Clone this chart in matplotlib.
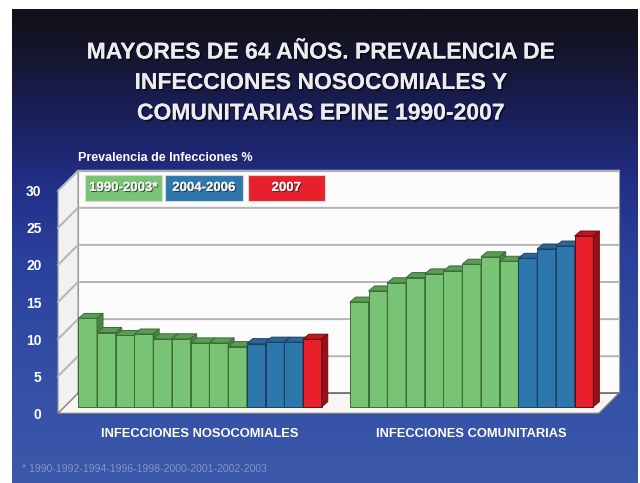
import numpy as np
import matplotlib.pyplot as plt
from matplotlib.patches import Polygon, Rectangle
from matplotlib.colors import LinearSegmentedColormap
import matplotlib.patheffects as pe

plt.rcParams['font.family'] = ['Liberation Sans', 'DejaVu Sans']

# datos: prevalencia (%) en mayores de 64 años, EPINE
grupos = ['INFECCIONES NOSOCOMIALES', 'INFECCIONES COMUNITARIAS']
periodos = ['1990-2003*', '2004-2006', '2007']
n_periodo = [9, 3, 1]  # cortes de cada periodo
nosocomiales = [11.9, 10.0, 9.6, 9.8, 9.15, 9.15, 8.6, 8.6, 8.1, 8.5, 8.7, 8.7, 9.1]
comunitarias = [14.1, 15.6, 16.7, 17.4, 17.9, 18.3, 19.2, 20.2, 19.6, 20.0, 21.25, 21.65, 23.0]
yticks = [0, 5, 10, 15, 20, 25, 30]
titulo = ['MAYORES DE 64 AÑOS. PREVALENCIA DE',
          'INFECCIONES NOSOCOMIALES Y',
          'COMUNITARIAS EPINE 1990-2007']
eje_y = 'Prevalencia de Infecciones %'
nota = '* 1990-1992-1994-1996-1998-2000-2001-2002-2003'

# frente, tapa, lateral, borde
colores = [('#79c374', '#5b9c54', '#4a8744', '#3b6b36'),
           ('#2e77ad', '#2a6696', '#1f5580', '#1b3f60'),
           ('#e8202c', '#c4141e', '#981018', '#6a0c10')]

fig = plt.figure(figsize=(6.4, 4.83), dpi=100, facecolor='white')

# fondo degradado
bg = fig.add_axes([12/640, 0, 626/640, 474/483])
bg.axis('off')
cmap = LinearSegmentedColormap.from_list('fondo', [
    (0.0, '#111118'), (0.07, '#141428'), (0.22, '#1a1f58'),
    (0.36, '#212e84'), (0.52, '#2a409c'), (0.78, '#3450a6'), (1.0, '#3c58aa')])
grad = np.linspace(0, 1, 256).reshape(-1, 1)
bg.imshow(grad, cmap=cmap, aspect='auto', extent=[0, 1, 0, 1], origin='upper')
bg.set_xlim(0, 1)
bg.set_ylim(0, 1)

ax = fig.add_axes([0.0681, 0.1289, 0.9072, 0.5377])
ax.set_xlim(-1.5, 29.5)
ax.set_ylim(-1, 34)
ax.patch.set_visible(False)
for s in ax.spines.values():
    s.set_visible(False)

# profundidad de las paredes y de las barras (unidades de datos)
dx, dy = 1.068, 2.695
fx, fy = 0.352, 0.89
bx, by = 0.32, 0.674
x0, x1 = -0.73, 28.15

ax.add_patch(Polygon([(x0, 0), (x0, 30), (x0 + dx, 30 + dy), (x0 + dx, dy)],
                     closed=True, facecolor='#f1f1f1', edgecolor='#9a9a9a', lw=0.8, zorder=1))
ax.add_patch(Rectangle((x0 + dx, dy), x1 - x0, 30, facecolor='#fcfcfc',
                       edgecolor='#9a9a9a', lw=0.8, zorder=1))
ax.add_patch(Polygon([(x0, 0), (x1, 0), (x1 + dx, dy), (x0 + dx, dy)],
                     closed=True, facecolor='#f6f6f6', edgecolor='#7a7a7a', lw=0.9, zorder=1))
for v in yticks[1:]:
    ax.plot([x0, x0 + dx, x1 + dx], [v, v + dy, v + dy], color='#b4b4b4', lw=1.4, zorder=2)
ax.plot([x0 + dx, x1 + dx], [dy, dy], color='#707070', lw=1.2, zorder=2)

# barras con tapa y lateral
col_barras = np.repeat(np.arange(3), n_periodo)


def barra3d(x, v, c, z):
    frente, tapa, lado, borde = colores[c]
    ax.bar(x + fx, v, width=1, bottom=fy, align='edge', color=frente,
           edgecolor=borde, lw=0.7, zorder=z)
    xl, xr, top = x + fx, x + fx + 1, v + fy
    ax.add_patch(Polygon([(xl, top), (xr, top), (xr + bx, top + by), (xl + bx, top + by)],
                         closed=True, facecolor=tapa, edgecolor=borde, lw=0.7, zorder=z))
    ax.add_patch(Polygon([(xr, fy), (xr, top), (xr + bx, top + by), (xr + bx, fy + by)],
                         closed=True, facecolor=lado, edgecolor=borde, lw=0.7, zorder=z))


pos1 = np.arange(len(nosocomiales))
pos2 = np.arange(len(comunitarias)) + 14.5
for i, (x, v) in enumerate(zip(pos1, nosocomiales)):
    barra3d(x, v, col_barras[i], 3 + i * 0.01)
for i, (x, v) in enumerate(zip(pos2, comunitarias)):
    barra3d(x, v, col_barras[i], 3 + i * 0.01)

# leyenda en cajas de color
sombra = [pe.withSimplePatchShadow(offset=(0.8, -0.8), shadow_rgbFace='#202020', alpha=0.7), pe.Normal()]
cajas = [(0.71, 4.82), (4.98, 9.15), (9.41, 13.52)]
for (a, b), lab, c in zip(cajas, periodos, colores):
    ax.add_patch(Rectangle((a, 28.65), b - a, 3.45, facecolor=c[0], edgecolor='#d8d8d8',
                           lw=0.8, zorder=5))
    ax.text((a + b) / 2, 28.65 + 1.72, lab, ha='center', va='center', color='#f4f4f4',
            fontsize=9.5, fontweight='bold', zorder=6, path_effects=sombra)

ax.set_yticks(yticks)
ax.set_yticklabels([str(t) for t in yticks], fontweight='bold')
ax.tick_params(axis='y', length=0, pad=1.5, labelcolor='white', labelsize=10)
ax.set_xticks([pos1.mean() + 0.5 + fx, pos2.mean() + 0.5 + fx])
ax.set_xticklabels(grupos, fontweight='bold')
ax.tick_params(axis='x', length=0, pad=5, labelcolor='white', labelsize=9.3)

for k, linea in enumerate(titulo):
    fig.text(0.5, 1 - (52 + 30.5 * k) / 483, linea, ha='center', va='center',
             color='#ececee', fontsize=16.5, fontweight='bold',
             path_effects=[pe.withSimplePatchShadow(offset=(1.2, -1.2), shadow_rgbFace='black', alpha=0.6), pe.Normal()])

fig.text(78 / 640, 1 - 158 / 483, eje_y, ha='left', va='center', color='white',
         fontsize=9, fontweight='bold')
fig.text(22 / 640, 1 - 469 / 483, nota, ha='left', va='center', color='#8494c6', fontsize=7.5)

fig.savefig('out.png', dpi=100, facecolor=fig.get_facecolor())
